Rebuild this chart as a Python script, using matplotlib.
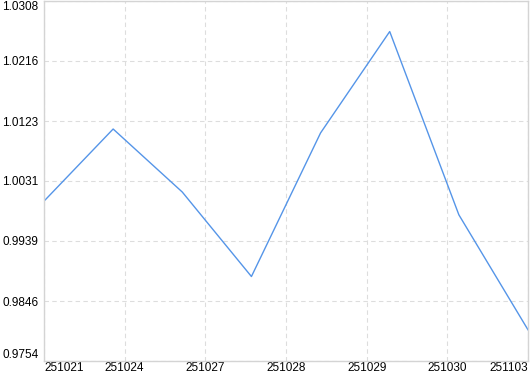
import numpy as np
import matplotlib
matplotlib.use("Agg")
import matplotlib.pyplot as plt

# values
values = [1.0000, 1.0111, 1.0014, 0.9884, 1.0105, 1.0261, 0.9979, 0.9802]
x_labels = ["251021", "251024", "251027", "251028", "251029", "251030", "251103"]
y_ticks = [0.9754, 0.9846, 0.9939, 1.0031, 1.0123, 1.0216, 1.0308]

plt.rcParams["font.family"] = ["Liberation Sans", "DejaVu Sans"]

fig = plt.figure(figsize=(5.30, 3.74), dpi=100)
ax = fig.add_axes([44 / 530, 13 / 374, 484 / 530, 360 / 374])

xs = np.arange(len(values))
ax.plot(xs, values, color="#5595e8", linewidth=1.0)

ax.set_xlim(0, len(values) - 1)
ax.set_ylim(y_ticks[0], y_ticks[-1])

tick_pos = np.linspace(0, len(values) - 1, len(x_labels))
ax.set_xticks(tick_pos)
ax.set_xticklabels(x_labels)
ax.set_yticks(y_ticks)
ax.set_yticklabels([f"{v:.4f}" for v in y_ticks])

ax.tick_params(axis="both", length=0, labelsize=8.5, colors="black")
ax.tick_params(axis="y", pad=4)
ax.tick_params(axis="x", pad=0.5)

# keep the edge labels inside the figure, as the reference does
xl = ax.get_xticklabels()
xl[0].set_horizontalalignment("left")
xl[-1].set_horizontalalignment("right")
yl = ax.get_yticklabels()
yl[0].set_verticalalignment("bottom")
yl[-1].set_verticalalignment("top")

ax.grid(True, color="#dddddd", linestyle=(0, (4, 3)), linewidth=0.8)
for side in ["left", "bottom", "top", "right"]:
    ax.spines[side].set_color("#d4d4d4")
    ax.spines[side].set_linewidth(1.0)

fig.savefig("out.png", dpi=100)
